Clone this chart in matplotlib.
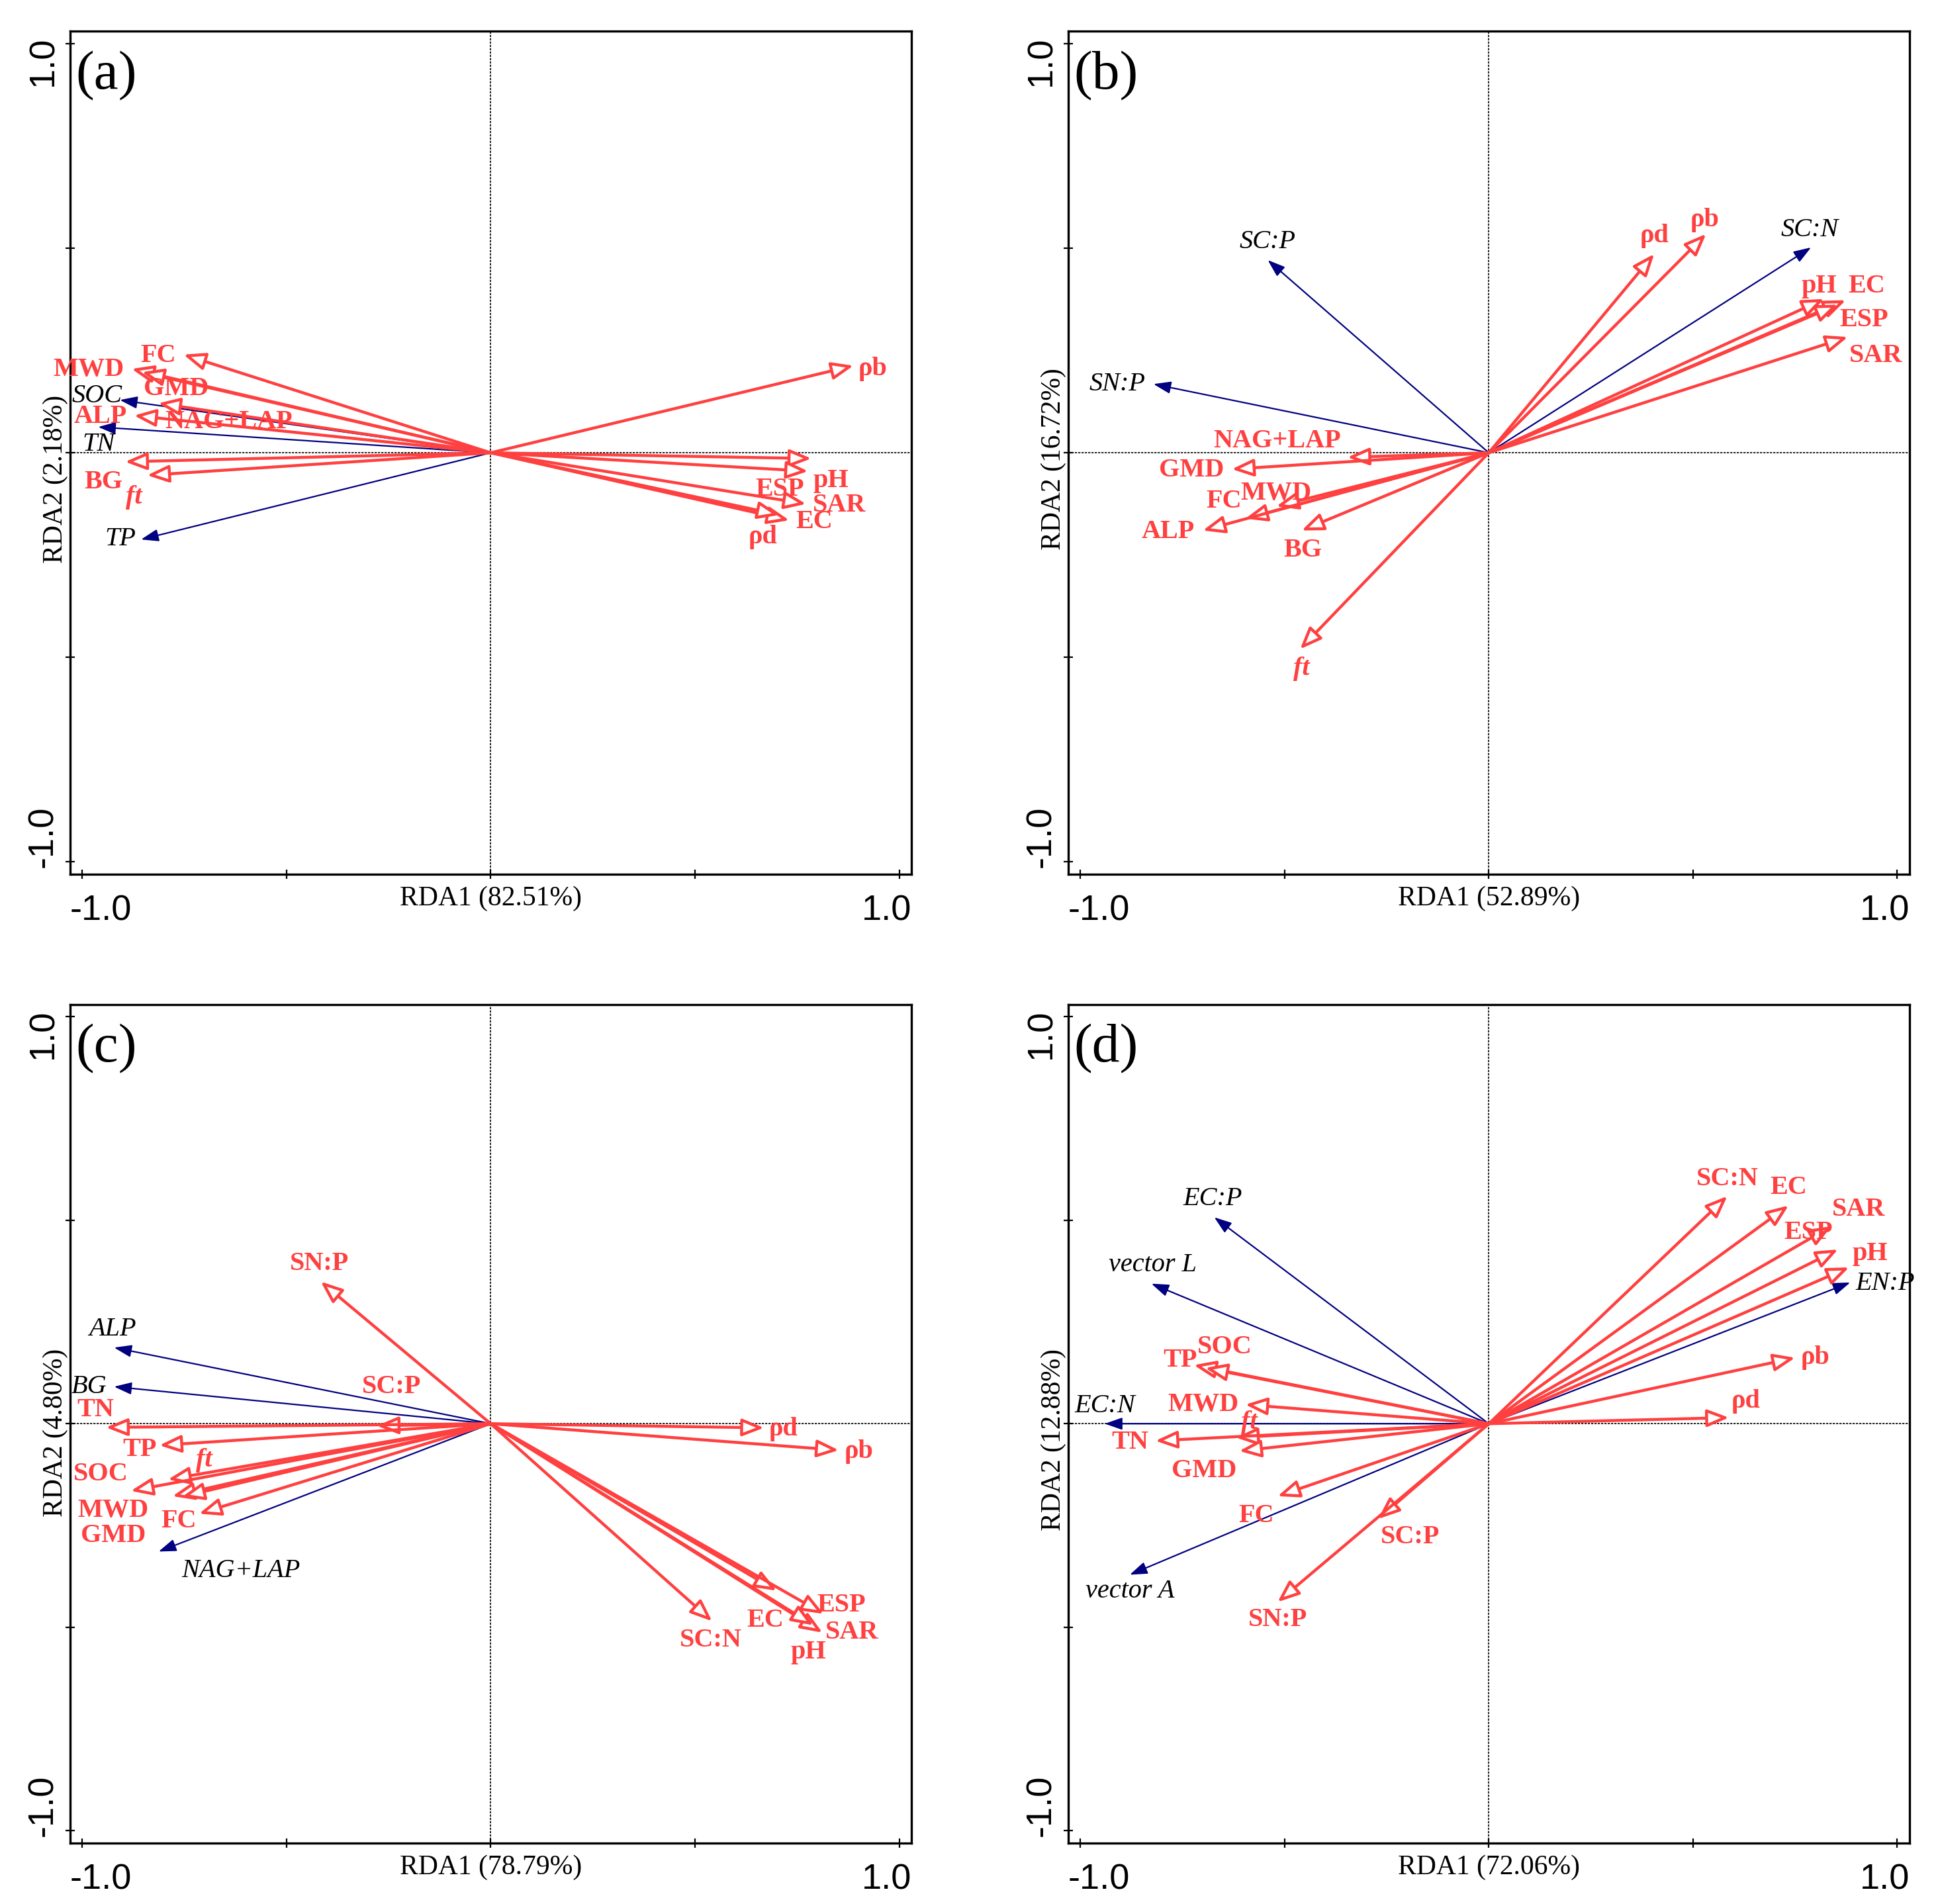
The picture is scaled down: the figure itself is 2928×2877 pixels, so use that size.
import matplotlib.pyplot as plt

RED = '#ff4040'
BLUE = '#000080'
SERIF = 'Liberation Serif'
SANS = 'Liberation Sans'

# ---- panel (a) ----
a_red_names = ['FC', 'MWD', 'GMD', 'ALP', 'NAG+LAP', 'BG', 'ft', 'ρb', 'ESP', 'pH', 'SAR', 'EC', 'ρd']
a_red_x = [-0.752, -0.879, -0.854, -0.873, -0.814, -0.895, -0.841, 0.888, 0.785, 0.777, 0.772, 0.731, 0.707]
a_red_y = [0.240, 0.205, 0.197, 0.091, 0.121, -0.022, -0.055, 0.213, -0.014, -0.045, -0.125, -0.165, -0.152]
a_red_lx = [-0.814, -0.984, -0.770, -0.955, -0.641, -0.947, -0.874, 0.936, 0.707, 0.833, 0.853, 0.793, 0.667]
a_red_ly = [0.237, 0.203, 0.156, 0.089, 0.075, -0.071, -0.109, 0.205, -0.089, -0.068, -0.128, -0.169, -0.206]
a_blue_names = ['SOC', 'TN', 'TP']
a_blue_x = [-0.908, -0.961, -0.856]
a_blue_y = [0.129, 0.063, -0.212]
a_blue_lx = [-0.963, -0.960, -0.906]
a_blue_ly = [0.139, 0.021, -0.211]

# ---- panel (b) ----
b_red_names = ['ρd', 'ρb', 'pH', 'EC', 'ESP', 'SAR', 'NAG+LAP', 'GMD', 'MWD', 'FC', 'ALP', 'BG', 'ft']
b_red_x = [0.405, 0.532, 0.821, 0.874, 0.855, 0.879, -0.346, -0.629, -0.520, -0.596, -0.700, -0.458, -0.462]
b_red_y = [0.486, 0.535, 0.376, 0.373, 0.362, 0.283, -0.011, -0.040, -0.131, -0.161, -0.190, -0.190, -0.480]
b_red_lx = [0.405, 0.529, 0.809, 0.925, 0.919, 0.947, -0.518, -0.727, -0.520, -0.649, -0.785, -0.455, -0.458]
b_red_ly = [0.530, 0.569, 0.407, 0.407, 0.324, 0.237, 0.029, -0.042, -0.100, -0.119, -0.193, -0.238, -0.528]
b_blue_names = ['SC:P', 'SN:P', 'SC:N']
b_blue_x = [-0.541, -0.821, 0.789]
b_blue_y = [0.471, 0.168, 0.502]
b_blue_lx = [-0.541, -0.909, 0.786]
b_blue_ly = [0.515, 0.168, 0.545]

# ---- panel (c) ----
c_red_names = ['SN:P', 'SC:P', 'TN', 'TP', 'ft', 'SOC', 'MWD', 'GMD', 'FC', 'ρd', 'ρb',
               'SC:N', 'EC', 'ESP', 'SAR', 'pH']
c_red_x = [-0.416, -0.279, -0.942, -0.811, -0.790, -0.881, -0.779, -0.755, -0.714, 0.669, 0.852,
           0.542, 0.700, 0.815, 0.812, 0.790]
c_red_y = [0.349, -0.005, -0.009, -0.053, -0.137, -0.165, -0.178, -0.179, -0.221, -0.010, -0.065,
           -0.485, -0.410, -0.467, -0.513, -0.495]
c_red_lx = [-0.419, -0.242, -0.968, -0.860, -0.701, -0.954, -0.924, -0.924, -0.763, 0.717, 0.902,
            0.538, 0.672, 0.858, 0.885, 0.777]
c_red_ly = [0.393, 0.091, 0.033, -0.064, -0.089, -0.124, -0.213, -0.275, -0.240, -0.013, -0.069,
            -0.532, -0.483, -0.445, -0.513, -0.561]
c_blue_names = ['ALP', 'BG', 'NAG+LAP']
c_blue_x = [-0.922, -0.922, -0.813]
c_blue_y = [0.187, 0.091, -0.314]
c_blue_lx = [-0.925, -0.983, -0.612]
c_blue_ly = [0.232, 0.091, -0.361]

# ---- panel (d) ----
d_red_names = ['SC:N', 'EC', 'SAR', 'ESP', 'pH', 'ρb', 'ρd', 'TP', 'SOC', 'MWD', 'ft', 'TN',
               'GMD', 'FC', 'SC:P', 'SN:P']
d_red_x = [0.584, 0.734, 0.839, 0.855, 0.882, 0.750, 0.588, -0.722, -0.694, -0.596, -0.619, -0.816,
           -0.611, -0.517, -0.271, -0.517]
d_red_y = [0.559, 0.536, 0.485, 0.428, 0.384, 0.162, 0.015, 0.144, 0.137, 0.047, -0.034, -0.042,
           -0.067, -0.178, -0.234, -0.438]
d_red_lx = [0.584, 0.734, 0.906, 0.782, 0.933, 0.800, 0.629, -0.755, -0.646, -0.699, -0.586, -0.879,
            -0.697, -0.569, -0.192, -0.516]
d_red_ly = [0.601, 0.580, 0.526, 0.469, 0.418, 0.162, 0.055, 0.156, 0.188, 0.047, 0.003, -0.046,
            -0.116, -0.227, -0.279, -0.482]
d_blue_names = ['EC:P', 'vector L', 'EC:N', 'vector A', 'EN:P']
d_blue_x = [-0.672, -0.826, -0.940, -0.879, 0.885]
d_blue_y = [0.507, 0.344, 0.0, -0.371, 0.347]
d_blue_lx = [-0.675, -0.823, -0.940, -0.879, 0.971]
d_blue_ly = [0.552, 0.389, 0.043, -0.412, 0.345]

letters = ['(a)', '(b)', '(c)', '(d)']
rda1 = ['RDA1 (82.51%)', 'RDA1 (52.89%)', 'RDA1 (78.79%)', 'RDA1 (72.06%)']
rda2 = ['RDA2 (2.18%)', 'RDA2 (16.72%)', 'RDA2 (4.80%)', 'RDA2 (12.88%)']


def draw_panel(ax, letter, xlab, ylab, ylab_y,
               rn, rx, ry, rlx, rly, bn, bx, by, blx, bly):
    lim = 1.03
    ax.set_xlim(-lim, lim)
    ax.set_ylim(-lim, lim)
    ax.axhline(0, color='black', lw=0.6, ls=(0, (2, 1)), zorder=1)
    ax.axvline(0, color='black', lw=0.6, ls=(0, (2, 1)), zorder=1)

    # blue (explanatory) vectors, filled heads
    for i in range(len(bn)):
        ax.annotate('', xy=(bx[i], by[i]), xytext=(0, 0),
                    arrowprops=dict(arrowstyle='-|>,head_length=8,head_width=2.8',
                                    mutation_scale=1, lw=0.8, ec=BLUE, fc=BLUE,
                                    shrinkA=0, shrinkB=0), zorder=3)
        ax.text(blx[i], bly[i], bn[i], color='black', fontsize=14.5, family=SERIF,
                style='italic', ha='center', va='center', zorder=5)

    # red (response) vectors, open heads
    for i in range(len(rn)):
        ax.annotate('', xy=(rx[i], ry[i]), xytext=(0, 0),
                    arrowprops=dict(arrowstyle='-|>,head_length=10,head_width=4',
                                    mutation_scale=1, lw=1.6, ec=RED, fc='white',
                                    shrinkA=0, shrinkB=0), zorder=4)
        ax.text(rlx[i], rly[i], rn[i], color=RED, fontsize=14.5, family=SERIF,
                weight='bold', style='italic' if rn[i] == 'ft' else 'normal',
                ha='center', va='center', zorder=5)

    ticks = [-1, -0.5, 0, 0.5, 1]
    ax.set_xticks(ticks)
    ax.set_yticks(ticks)
    ax.set_xticklabels([])
    ax.set_yticklabels([])
    ax.tick_params(direction='inout', length=5, width=0.8)
    for s in ax.spines.values():
        s.set_linewidth(1.2)

    tr = ax.transAxes
    ax.text(0.0, -0.055, '-1.0', transform=tr, ha='left', va='baseline',
            family=SANS, fontsize=19.5)
    ax.text(1.0, -0.055, '1.0', transform=tr, ha='right', va='baseline',
            family=SANS, fontsize=19.5)
    ax.text(-0.021, 0.008, '-1.0', transform=tr, ha='left', va='baseline',
            rotation=90, rotation_mode='anchor', family=SANS, fontsize=19.5)
    ax.text(-0.021, 0.9945, '1.0', transform=tr, ha='right', va='baseline',
            rotation=90, rotation_mode='anchor', family=SANS, fontsize=19.5)
    ax.text(0.5, -0.037, xlab, transform=tr, ha='center', va='baseline',
            family=SERIF, fontsize=15)
    ax.text(-0.0095, ylab_y, ylab, transform=tr, ha='center', va='baseline',
            rotation=90, rotation_mode='anchor', family=SERIF, fontsize=15)
    ax.text(0.0066, 0.977, letter, transform=tr, ha='left', va='top',
            family=SERIF, fontsize=30)


fig = plt.figure(figsize=(14.64, 14.385), dpi=200)
ax_a = fig.add_axes([0.0361, 0.5409, 0.4342, 0.4426])
ax_b = fig.add_axes([0.5511, 0.5409, 0.4342, 0.4426])
ax_c = fig.add_axes([0.0361, 0.0320, 0.4342, 0.4405])
ax_d = fig.add_axes([0.5511, 0.0320, 0.4342, 0.4405])

draw_panel(ax_a, letters[0], rda1[0], rda2[0], 0.469,
           a_red_names, a_red_x, a_red_y, a_red_lx, a_red_ly,
           a_blue_names, a_blue_x, a_blue_y, a_blue_lx, a_blue_ly)
draw_panel(ax_b, letters[1], rda1[1], rda2[1], 0.493,
           b_red_names, b_red_x, b_red_y, b_red_lx, b_red_ly,
           b_blue_names, b_blue_x, b_blue_y, b_blue_lx, b_blue_ly)
draw_panel(ax_c, letters[2], rda1[2], rda2[2], 0.489,
           c_red_names, c_red_x, c_red_y, c_red_lx, c_red_ly,
           c_blue_names, c_blue_x, c_blue_y, c_blue_lx, c_blue_ly)
draw_panel(ax_d, letters[3], rda1[3], rda2[3], 0.481,
           d_red_names, d_red_x, d_red_y, d_red_lx, d_red_ly,
           d_blue_names, d_blue_x, d_blue_y, d_blue_lx, d_blue_ly)

fig.savefig('out.png', dpi=200)
